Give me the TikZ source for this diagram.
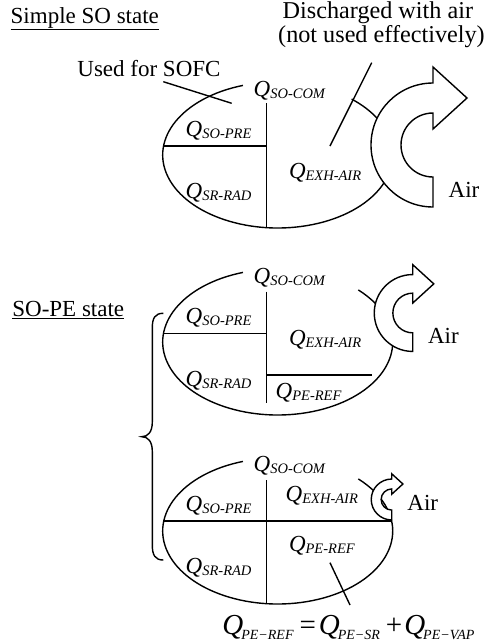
\documentclass[tikz,border=0pt]{standalone}
\usepackage{fontspec}
\setmainfont{Liberation Serif}
\newcommand{\Qlab}[1]{{\fontsize{23}{23}\selectfont\itshape Q}\raisebox{-2pt}{\fontsize{14.5}{14.5}\selectfont\itshape #1}}
\newcommand{\Qeq}[1]{{\fontsize{29}{29}\selectfont\itshape Q}\hspace{-2pt}\raisebox{-5pt}{\fontsize{14}{14}\selectfont\itshape #1}}
\newcommand{\AirArrow}[3]{%
  \begin{scope}[shift={(#1,#2)}, scale=#3]
    \draw[arrowshape] (0,62) arc[start angle=90, end angle=270, radius=62]
      -- (0,-78) -- (34,-47) -- (0,-16) -- (0,-32)
      arc[start angle=270, end angle=90, radius=32] -- cycle;
  \end{scope}}
\begin{document}
\begin{tikzpicture}[x=1pt,y=-1pt, line width=1.4pt,
  lbl/.style={anchor=base west, inner sep=0pt, font=\fontsize{23}{23}\selectfont},
  ql/.style={anchor=base west, inner sep=0pt},
  arrowshape/.style={draw, fill=white, line width=1.4pt, line join=miter}]
\useasboundingbox (0,0) rectangle (489,643);

% ---------- ellipse 1 ----------
\draw ([shift={(277.7,155)}]-107.6:115 and 73) arc[start angle=-107.6, end angle=-410, x radius=115, y radius=73];
\draw (266.7,103) -- (266.7,227.7);
\draw (163.6,146) -- (266.7,146);
\AirArrow{433}{145}{1}

% ---------- ellipse 2 ----------
\draw ([shift={(277.7,342)}]-107.6:115 and 73) arc[start angle=-107.6, end angle=-405.5, x radius=115, y radius=73];
\draw (266.7,291.7) -- (266.7,403.3);
\draw (163.5,333.3) -- (266.7,333.3);
\draw (266.7,375) -- (371.7,375);
\AirArrow{412.7}{313}{0.62}

% ---------- ellipse 3 ----------
\draw ([shift={(277.7,531)}]-107.6:115 and 73) arc[start angle=-107.6, end angle=-405.5, x radius=115, y radius=73];
\draw (266.7,480) -- (266.7,603.7);
\draw (163.8,521) -- (391.6,521);
\AirArrow{391.7}{499.5}{0.33}

% ---------- brace ----------
\draw (163.3,313.3) .. controls (155,313.3) and (152.3,318) .. (152.3,328) -- (152.3,422)
  .. controls (152.3,432) and (148,436.7) .. (141.7,436.7)
  .. controls (148,436.7) and (152.3,441.4) .. (152.3,451.4) -- (152.3,545)
  .. controls (152.3,555) and (155,560) .. (163.3,560);

% ---------- leader lines ----------
\coordinate (ua) at (163.3,81.7); \coordinate (ub) at (231.7,103.3);
\coordinate (da) at (371.7,62.7); \coordinate (db) at (330,146);
\coordinate (pa) at (330,562.7);  \coordinate (pb) at (350,605);
\draw (ua) -- (ub);
\draw (da) -- (db);
\draw (pa) -- (pb);

% ---------- texts ----------
\node[lbl] (title1) at (10,23.3) {\underline{Simple SO state}};
\node[lbl] (title2) at (11.7,316.7) {\underline{SO-PE state}};
\node[lbl] (used) at (76.7,76) {Used for SOFC};
\node[anchor=base west, inner sep=0pt, align=left, font=\fontsize{24.2}{21}\selectfont] (dis) at (277.5,42)
  {\hspace*{4.5pt}Discharged with air\\(not used effectively)};
\node[lbl] (air1) at (448,197) {Air};
\node[lbl] (air2) at (427.3,343.3) {Air};
\node[lbl] (air3) at (406.7,510) {Air};

\node[ql] (a1) at (253,96) {\Qlab{SO-COM}};
\node[ql] (a2) at (185,136.7) {\Qlab{SO-PRE}};
\node[ql] (a3) at (185,198.3) {\Qlab{SR-RAD}};
\node[ql] (a4) at (288.3,178.3) {\Qlab{EXH-AIR}};

\node[ql] (b1) at (253,283.3) {\Qlab{SO-COM}};
\node[ql] (b2) at (185,323.3) {\Qlab{SO-PRE}};
\node[ql] (b3) at (288.3,345) {\Qlab{EXH-AIR}};
\node[ql] (b4) at (185,386.7) {\Qlab{SR-RAD}};
\node[ql] (b5) at (275,398.3) {\Qlab{PE-REF}};

\node[ql] (c1) at (253,471.7) {\Qlab{SO-COM}};
\node[ql] (c2) at (285,501.7) {\Qlab{EXH-AIR}};
\node[ql] (c3) at (185,511.7) {\Qlab{SO-PRE}};
\node[ql] (c4) at (288.3,551.7) {\Qlab{PE-REF}};
\node[ql] (c5) at (185,573.3) {\Qlab{SR-RAD}};

\node[ql] (eq) at (221.7,634) {\Qeq{PE−REF}\hspace{6pt}{\fontsize{29}{29}\selectfont=}\hspace{3pt}\Qeq{PE−SR}\hspace{6pt}{\fontsize{29}{29}\selectfont+}\hspace{2pt}\Qeq{PE−VAP}};
\end{tikzpicture}
\end{document}
